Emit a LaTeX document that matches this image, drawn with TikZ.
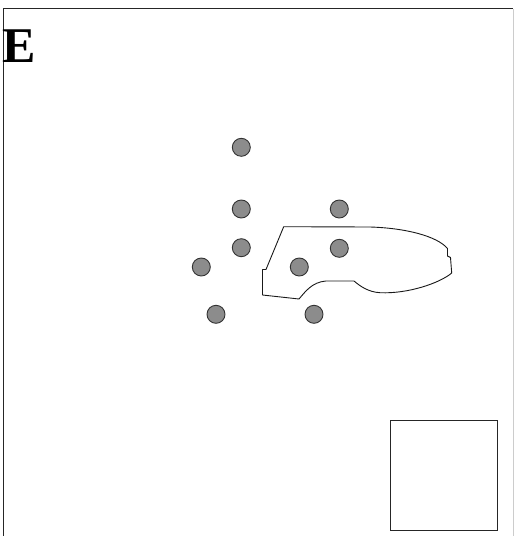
\documentclass[tikz,border=0pt]{standalone}
\usepackage{fontspec}
\setmainfont{Liberation Serif}

\begin{document}
\begin{tikzpicture}[x=1pt, y=-1pt, line width=0.9pt,
  dot/.style={circle, draw=black!80, fill=black!45, minimum size=18pt, inner sep=0pt, line width=0.9pt}]
  \useasboundingbox (0,0) rectangle (515,536);
  % frame
  \draw[black!85, line width=1.3pt] (3.5,536) -- (3.5,8.5) -- (513,8.5);
  \draw[black!20, line width=1pt] (513,8.5) -- (513,536);
  \node[font=\fontsize{50}{50}\selectfont\bfseries, anchor=base west, inner sep=0pt] (panel) at (2.5,62.7) {E};
  % dots
  \node[dot] (d1) at (241.3,147.3) {};
  \node[dot] (d2) at (241.3,209) {};
  \node[dot] (d3) at (339.3,209) {};
  \node[dot] (d4) at (241.3,247.7) {};
  \node[dot] (d5) at (339.3,248.3) {};
  \node[dot] (d6) at (201.3,267) {};
  \node[dot] (d7) at (299.3,267) {};
  \node[dot] (d8) at (216,314.3) {};
  \node[dot] (d9) at (314,314.3) {};
  % outline
  \draw[black!90, line join=round] (283.7,226.7) -- (370,227)
    .. controls (405,228) and (437,236) .. (447.5,248.5)
    -- (447.5,256) -- (450.5,257.5) -- (451.7,273)
    .. controls (440,283) and (408,294) .. (380,292.7)
    .. controls (368,292) and (360,286) .. (354,281)
    -- (326,281)
    .. controls (312,282) and (305,292) .. (299,299)
    -- (262.5,295) -- (262.5,269.5) -- (266,269.5) -- cycle;
  % box
  \draw[black!85, line width=1pt] (390,420.5) rectangle (497.5,530.5);
\end{tikzpicture}
\end{document}
